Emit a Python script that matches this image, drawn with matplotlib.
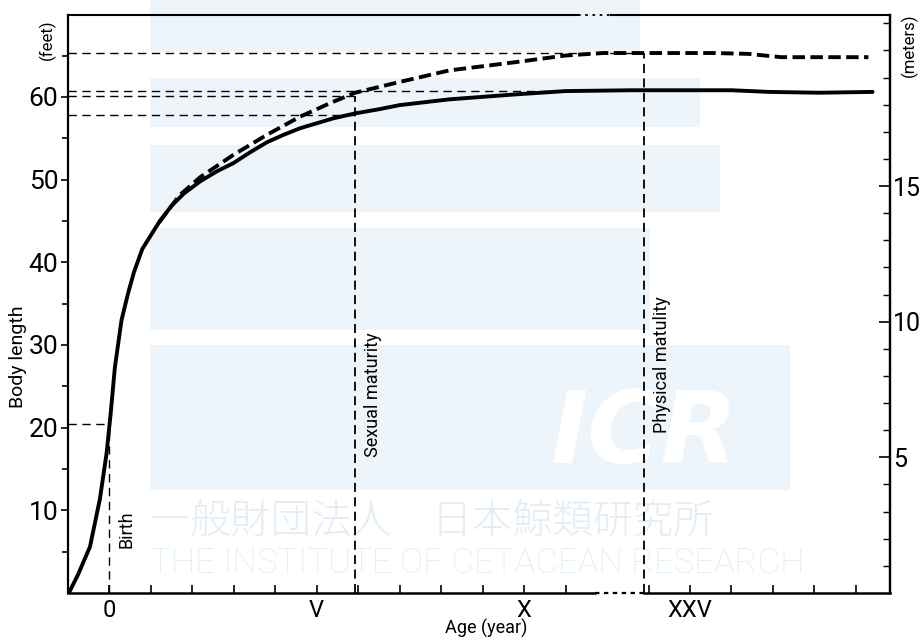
import numpy as np
import matplotlib
matplotlib.use('Agg')
import matplotlib.pyplot as plt
from matplotlib.patches import Rectangle

# Положення на осі віку (роки, вісь розірвана між XI і XXIV)
tick_pos = [0, 1, 2, 3, 4, 5, 6, 7, 8, 9, 10, 11, 13, 14, 15, 16, 17, 18]
label_pos = [0, 5, 10, 14]
label_txt = ['0', 'V', 'X', 'XXV']

# Суцільна крива (довжина тіла, фути)
solid_x = [-0.95, -0.75, -0.46, -0.22, -0.06, 0.04, 0.14, 0.3, 0.46, 0.6, 0.8, 1.0,
           1.2, 1.5, 1.8, 2.2, 2.6, 3.0, 3.4, 3.8, 4.2, 4.6, 5.0, 5.4, 5.93, 6.5,
           7.0, 8.2, 9.0, 9.8, 11.0, 12.6, 15.0, 15.9, 17.1, 18.4]
solid_y = [0.2, 2.2, 5.6, 11.4, 16.9, 21.8, 27.3, 33.0, 36.3, 38.8, 41.6, 43.2,
           44.8, 46.8, 48.3, 49.8, 51.0, 52.0, 53.3, 54.5, 55.4, 56.2, 56.8, 57.4,
           58.0, 58.5, 59.0, 59.7, 60.0, 60.3, 60.7, 60.8, 60.8, 60.6, 60.5, 60.6]

# Штрихова крива
dash_x = [1.2, 1.7, 2.2, 3.0, 3.8, 4.6, 5.4, 5.93, 7.0, 8.2, 9.8, 11.0, 11.9,
          13.0, 14.6, 15.4, 16.2, 18.3]
dash_y = [44.8, 48.1, 50.3, 53.0, 55.4, 57.6, 59.4, 60.5, 61.8, 63.2, 64.2, 65.0,
          65.3, 65.3, 65.3, 65.2, 64.8, 64.8]

# Опорні точки
birth_x, birth_len = 0.0, 20.4
sex_x, sex_len_solid, sex_len_dash = 5.93, 57.8, 60.1
phys_x, phys_len = 12.9, 65.3
max_solid_x, max_solid_len = 11.0, 60.7

W, H = 921, 640
def fx(px):
    return px / W
def fy(py):
    return 1 - py / H

txt = dict(family='Roboto')

fig = plt.figure(figsize=(W / 100, H / 100), dpi=100)

# Водяний знак (фон) у пікселях
bg = fig.add_axes([0, 0, 1, 1], zorder=-1)
bg.set_xlim(0, W)
bg.set_ylim(H, 0)
bg.axis('off')
wm = '#edf5fa'
bands = [(150, 0, 640, 52), (150, 78, 700, 127), (150, 145, 720, 212),
         (150, 228, 650, 330), (150, 345, 790, 490)]
for x0, y0, x1, y1 in bands:
    bg.add_patch(Rectangle((x0, y0), x1 - x0, y1 - y0, color=wm, lw=0))
bg.text(645, 435, 'ICR', color='white', fontsize=72, fontweight='bold',
        style='italic', ha='center', va='center')
bg.text(150, 522, '一般財団法人　日本鯨類研究所', color='#e2edf5', fontsize=29,
        family=['Noto Sans CJK JP', 'DejaVu Sans'], weight='light', ha='left', va='center')
bg.text(150, 563, 'THE INSTITUTE OF CETACEAN RESEARCH', color='#e2edf5',
        fontsize=25, weight='light', ha='left', va='center', **txt)

ax = fig.add_axes([fx(68), fy(593), fx(890) - fx(68), fy(15) - fy(593)])
ax.set_facecolor('none')
ax.set_xlim(-0.99, 18.82)
ax.set_ylim(0, 69.9)

ax.plot(solid_x, solid_y, color='black', lw=2.8, solid_capstyle='round', zorder=5)
ax.plot(dash_x, dash_y, color='black', lw=2.8, dashes=(3.2, 1.4), zorder=5)

ref = dict(color='black', lw=1.0, dashes=(6, 4), zorder=4)
x0 = ax.get_xlim()[0]
ax.plot([x0, birth_x], [birth_len, birth_len], **ref)
ax.plot([birth_x, birth_x], [0, birth_len], **ref)
ax.plot([x0, sex_x], [sex_len_solid, sex_len_solid], **ref)
ax.plot([x0, sex_x], [sex_len_dash, sex_len_dash], **ref)
ax.plot([sex_x, sex_x], [0, sex_len_dash], color='black', lw=1.3, dashes=(5, 3), zorder=4)
ax.plot([x0, max_solid_x], [max_solid_len, max_solid_len], **ref)
ax.plot([x0, phys_x], [phys_len, phys_len], **ref)
ax.plot([phys_x, phys_x], [0, phys_len], color='black', lw=1.3, dashes=(5, 3), zorder=4)

# Рамка з розривом осі
for s in ['top', 'bottom']:
    ax.spines[s].set_visible(False)
for s in ['left', 'right']:
    ax.spines[s].set_linewidth(1.6)
xt = ax.get_xaxis_transform()
xl, xr = ax.get_xlim()
ax.plot([xl, 11.7], [0, 0], color='black', lw=1.8, transform=xt, clip_on=False)
ax.plot([11.7, 12.9], [0, 0], color='black', lw=1.6, dashes=(2, 2), transform=xt, clip_on=False)
ax.plot([12.9, xr], [0, 0], color='black', lw=1.8, transform=xt, clip_on=False)
ax.plot([xl, 11.3], [1, 1], color='black', lw=1.5, transform=xt, clip_on=False)
ax.plot([11.3, 12.1], [1, 1], color='black', lw=1.3, dashes=(1.5, 2.5), transform=xt, clip_on=False)
ax.plot([12.1, xr], [1, 1], color='black', lw=1.5, transform=xt, clip_on=False)

ax.set_xticks(tick_pos)
ax.set_xticklabels([label_txt[label_pos.index(p)] if p in label_pos else '' for p in tick_pos],
                   fontsize=17, **txt)
ax.tick_params(axis='x', direction='in', length=6, width=1.2, pad=4)

ax.set_yticks([10, 20, 30, 40, 50, 60])
ax.set_yticks(np.arange(5, 70, 10), minor=True)
ax.set_yticklabels(['10', '20', '30', '40', '50', '60'], fontsize=19, **txt)
ax.tick_params(axis='y', which='both', direction='out', length=5, width=1.2, pad=2)
ax.tick_params(axis='y', which='minor', length=4)
ax.tick_params(axis='y', which='both', right=False)

sec = ax.secondary_yaxis('right', functions=(lambda f: f / 3.2808, lambda m: m * 3.2808))
sec.set_yticks([5, 10, 15])
sec.set_yticks(np.arange(1, 22), minor=True)
sec.set_yticklabels(['5', '10', '15'], fontsize=18, **txt)
sec.tick_params(which='major', direction='in', length=8, width=1.2, pad=2)
sec.tick_params(which='minor', direction='in', length=5, width=1.0)
sec.spines['right'].set_linewidth(1.6)

fig.text(fx(486), fy(628), 'Age (year)', fontsize=13, ha='center', va='center', **txt)
fig.text(fx(18), fy(357), 'Body length', rotation=90, fontsize=14, ha='center',
         va='center', **txt)
fig.text(fx(47), fy(40), '(feet)', rotation=90, fontsize=12, ha='center',
         va='center', **txt)
fig.text(fx(909), fy(45), '(meters)', rotation=90, fontsize=12, ha='center',
         va='center', **txt)

ax.text(0.42, 5.4, 'Birth', rotation=90, fontsize=13, ha='center', va='bottom', **txt)
ax.text(sex_x + 0.42, 16.4, 'Sexual maturity', rotation=90, fontsize=13, ha='center',
        va='bottom', **txt)
ax.text(phys_x + 0.42, 19.4, 'Physical matulity', rotation=90, fontsize=13, ha='center',
        va='bottom', **txt)

fig.savefig('out.png', dpi=100)
